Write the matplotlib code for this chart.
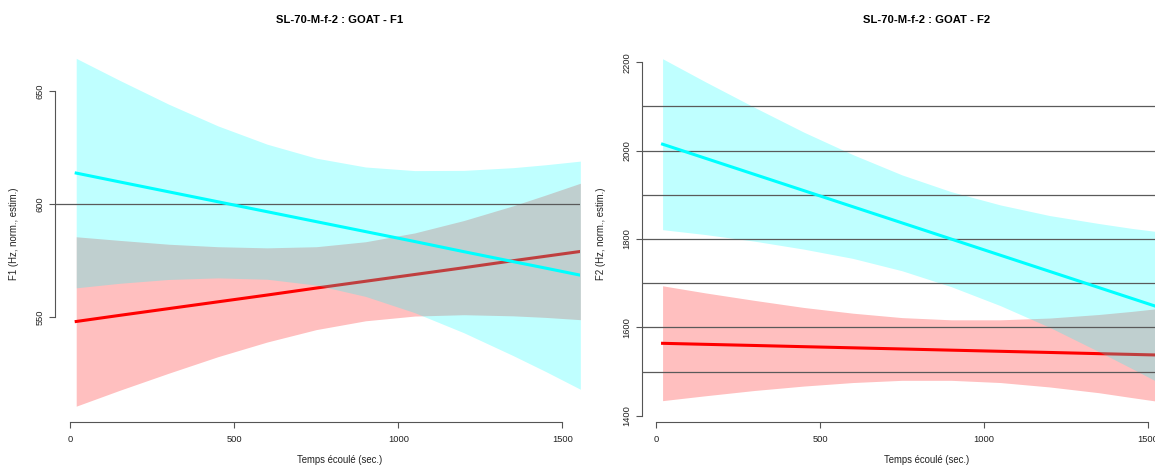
import matplotlib
matplotlib.use("Agg")
import matplotlib.pyplot as plt

# --- donnees (temps en secondes, formants en Hz) ---
locuteur = "SL-70-M-f-2"
voyelle = "GOAT"

# F1
f1_x = [18, 150, 300, 450, 600, 750, 900, 1050, 1200, 1350, 1450, 1555]
f1_cyan_line = [613.7, 609.8, 605.4, 601.0, 596.6, 592.2, 587.8, 583.4, 578.9, 574.5, 571.6, 568.5]
f1_cyan_up = [664.5, 654.8, 644.2, 634.6, 626.5, 620.3, 616.4, 614.8, 614.9, 616.1, 617.4, 619.0]
f1_cyan_lo = [562.9, 564.9, 566.6, 567.3, 566.7, 564.1, 559.1, 551.9, 543.0, 532.9, 525.8, 518.0]
f1_red_line = [548.0, 550.7, 553.7, 556.7, 559.7, 562.8, 565.8, 568.8, 571.8, 574.9, 576.9, 579.0]
f1_red_up = [585.5, 583.9, 582.2, 581.1, 580.6, 581.1, 583.3, 587.2, 592.7, 599.2, 604.0, 609.2]
f1_red_lo = [510.5, 517.5, 525.1, 532.4, 538.9, 544.4, 548.3, 550.4, 551.0, 550.5, 549.8, 548.8]

# F2
f2_x = [20, 150, 300, 450, 600, 750, 900, 1050, 1200, 1350, 1450, 1525]
f2_cyan_line = [2014.5, 1982.8, 1946.2, 1909.6, 1873.0, 1836.4, 1799.8, 1763.2, 1726.6, 1690.0, 1665.6, 1647.3]
f2_cyan_up = [2208, 2156, 2098, 2042, 1991, 1945, 1907, 1877, 1853, 1835, 1824, 1817]
f2_cyan_lo = [1821, 1810, 1795, 1777, 1756, 1728, 1692, 1649, 1600, 1545, 1507, 1478]
f2_red_line = [1563.8, 1561.5, 1558.9, 1556.2, 1553.6, 1551.0, 1548.3, 1545.7, 1543.1, 1540.4, 1538.7, 1537.4]
f2_red_up = [1694, 1678, 1661, 1645, 1632, 1622, 1617, 1617, 1621, 1629, 1636, 1642]
f2_red_lo = [1434, 1445, 1457, 1467, 1475, 1480, 1480, 1475, 1465, 1452, 1441, 1433]

x_ticks = [0, 500, 1000, 1500]
f1_ticks = [550, 600, 650]
f2_ticks = [1400, 1600, 1800, 2000, 2200]
f1_hlines = [600]
f2_hlines = [1500, 1600, 1700, 1800, 1900, 2000, 2100]

plt.rcParams['font.family'] = ['Liberation Sans', 'DejaVu Sans']

W, H = 1155, 466
fig = plt.figure(figsize=(W / 100, H / 100), dpi=100)


def panel(rect, x, cl, cu, clo, rl, ru, rlo, xlim, ylim, yticks, hlines,
          ylabel, title, title_x):
    ax = fig.add_axes(rect)
    # bandes de confiance : rouge d'abord, cyan par-dessus
    ax.fill_between(x, rlo, ru, color='red', alpha=0.25, lw=0, zorder=1)
    ax.plot(x, rl, color='red', lw=2.2, zorder=2)
    ax.fill_between(x, clo, cu, color='cyan', alpha=0.25, lw=0, zorder=3)
    for h in hlines:
        ax.axhline(h, color='#5a5a5a', lw=0.9, zorder=4)
    ax.plot(x, cl, color='cyan', lw=2.2, zorder=5)

    ax.set_xlim(*xlim)
    ax.set_ylim(*ylim)
    ax.set_xticks(x_ticks)
    ax.set_xticklabels([str(t) for t in x_ticks])
    ax.set_yticks(yticks)
    ax.set_yticklabels([str(t) for t in yticks], rotation=90, va='center')
    for s in ['top', 'right']:
        ax.spines[s].set_visible(False)
    ax.spines['bottom'].set_bounds(x_ticks[0], x_ticks[-1])
    ax.spines['left'].set_bounds(yticks[0], yticks[-1])
    for s in ['bottom', 'left']:
        ax.spines[s].set_color('#555555')
        ax.spines[s].set_linewidth(0.8)
    ax.tick_params(direction='out', length=4, width=0.8, color='#555555',
                   labelsize=6.7, labelcolor='#222222', pad=3.5)
    ax.tick_params(axis='x', pad=5.5)
    ax.set_facecolor('none')

    ax.set_xlabel("Temps écoulé (sec.)", fontsize=6.9, color='#222222')
    ax.set_ylabel(ylabel, fontsize=6.9, color='#222222')
    ax_w = rect[2] * W
    ax.xaxis.set_label_coords((title_x - rect[0] * W) / ax_w, -38 / (rect[3] * H))
    ax.yaxis.set_label_coords(-41 / ax_w, 0.5)
    ax.xaxis.label.set_va('center')
    ax.yaxis.label.set_va('center')

    fig.text(title_x / W, 1 - 20 / H, title, ha='center', va='center',
             fontsize=8.1, fontweight='bold')
    return ax


# echelle commune : 500 s = 164 px
def px_to_x(px, x0):
    return (px - x0) / 0.328


left_rect = [55 / W, 44 / H, (580 - 55) / W, 377 / H]
panel(left_rect, f1_x, f1_cyan_line, f1_cyan_up, f1_cyan_lo,
      f1_red_line, f1_red_up, f1_red_lo,
      (px_to_x(55, 70.3), px_to_x(580, 70.3)), (503.5, 670.4),
      f1_ticks, f1_hlines, "F1 (Hz, norm., estim.)",
      f"{locuteur} : {voyelle} - F1", 340)

right_rect = [641.7 / W, 44 / H, (W - 641.7) / W, 377 / H]
panel(right_rect, f2_x, f2_cyan_line, f2_cyan_up, f2_cyan_lo,
      f2_red_line, f2_red_up, f2_red_lo,
      (px_to_x(641.7, 656), px_to_x(W, 656)), (1385.7, 2239),
      f2_ticks, f2_hlines, "F2 (Hz, norm., estim.)",
      f"{locuteur} : {voyelle} - F2", 927)

fig.savefig("out.png", dpi=100)
